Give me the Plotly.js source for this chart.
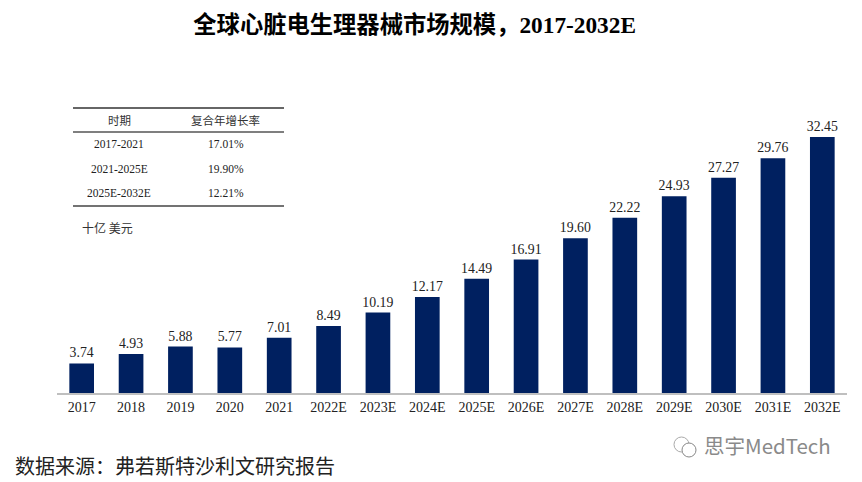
<!DOCTYPE html>
<html><head><meta charset="utf-8">
<script src="https://cdn.plot.ly/plotly-3.0.1.min.js"></script>
<style>html,body{margin:0;padding:0;background:#fff}</style></head><body>
<div id="c" style="width:862px;height:482px"></div>
<script>
const categories=["2017","2018","2019","2020","2021","2022E","2023E","2024E","2025E","2026E","2027E","2028E","2029E","2030E","2031E","2032E"];
const marketSize=[3.74,4.93,5.88,5.77,7.01,8.49,10.19,12.17,14.49,16.91,19.60,22.22,24.93,27.27,29.76,32.45];
const valueLabels=["3.74","4.93","5.88","5.77","7.01","8.49","10.19","12.17","14.49","16.91","19.60","22.22","24.93","27.27","29.76","32.45"];
const tableHeader=["时期","复合年增长率"];
const tablePeriods=["2017-2021","2021-2025E","2025E-2032E"];
const tableRates=["17.01%","19.90%","12.21%"];
const serif='"Liberation Serif","Noto Sans CJK SC",serif';
const cjk='"Noto Sans CJK SC",sans-serif';
const W=862,H=482,ML=57,MR=15,MT=100,MB=89;
const px=x=>(x-ML)/(W-ML-MR), py=y=>1-(y-MT)/(H-MT-MB);
function note(x,y,text,size,color,family,anchor){
  return {xref:'paper',yref:'paper',x:px(x),y:py(y),text:text,showarrow:false,xanchor:anchor||'center',yanchor:'middle',
    font:{size:size,color:color||'#222',family:family||serif},borderpad:0};
}
function rule(x0,x1,y,color,w){return {type:'line',xref:'paper',yref:'paper',x0:px(x0),x1:px(x1),y0:py(y),y1:py(y),line:{color:color,width:w},layer:'above'};}
const anns=[
  note(119,120,tableHeader[0],11.5,'#333',cjk),
  note(225,120,tableHeader[1],11.5,'#333',cjk),
  note(119,144,tablePeriods[0],11.5),note(119,169,tablePeriods[1],11.5),note(119,193,tablePeriods[2],11.5),
  note(226,144,tableRates[0],11.5),note(226,169,tableRates[1],11.5),note(226,193,tableRates[2],11.5),
  note(107,227,"十亿 美元",12,'#333',cjk),
  note(14,465,"数据来源：弗若斯特沙利文研究报告",20,'#222',cjk,'left'),
  note(703,445,"思宇MedTech",20.5,'#8a8a8a',cjk,'left')
];
const shapes=[
  rule(73,284,108,'#333',1.3),rule(73,284,132,'#555',1.6),rule(73,284,206,'#444',1.5),
  {type:'circle',xref:'paper',yref:'paper',x0:px(674),x1:px(689),y0:py(452),y1:py(437),line:{color:'#aaa',width:1},fillcolor:'rgba(0,0,0,0)'},
  {type:'circle',xref:'paper',yref:'paper',x0:px(682),x1:px(696),y0:py(457),y1:py(443),line:{color:'#888',width:1},fillcolor:'#fff'}
];
Plotly.newPlot('c',[{
  type:'bar',x:categories,y:marketSize,text:valueLabels,textposition:'outside',cliponaxis:false,constraintext:'none',
  textfont:{size:13.8,color:'#222',family:serif},
  marker:{color:'#002060'},width:0.5,hoverinfo:'skip'
}],{
  width:W,height:H,paper_bgcolor:'#fff',plot_bgcolor:'#fff',showlegend:false,
  margin:{l:ML,r:MR,t:MT,b:MB},
  title:{text:"<b>全球心脏电生理器械市场规模，2017-2032E</b>",x:0.481,xanchor:'center',y:0.949,yanchor:'middle',
    font:{size:23.3,color:'#000',family:'"Liberation Serif","Noto Sans CJK SC",serif'}},
  xaxis:{type:'category',showline:true,linecolor:'#bfbfbf',linewidth:2,ticks:'',showgrid:false,ticklen:0,
    tickfont:{size:14,color:'#222',family:serif},tickangle:0},
  yaxis:{range:[0,37.13],visible:false,showgrid:false,zeroline:false},
  annotations:anns,shapes:shapes,bargap:0.5
},{displayModeBar:false,staticPlot:true});
</script></body></html>
